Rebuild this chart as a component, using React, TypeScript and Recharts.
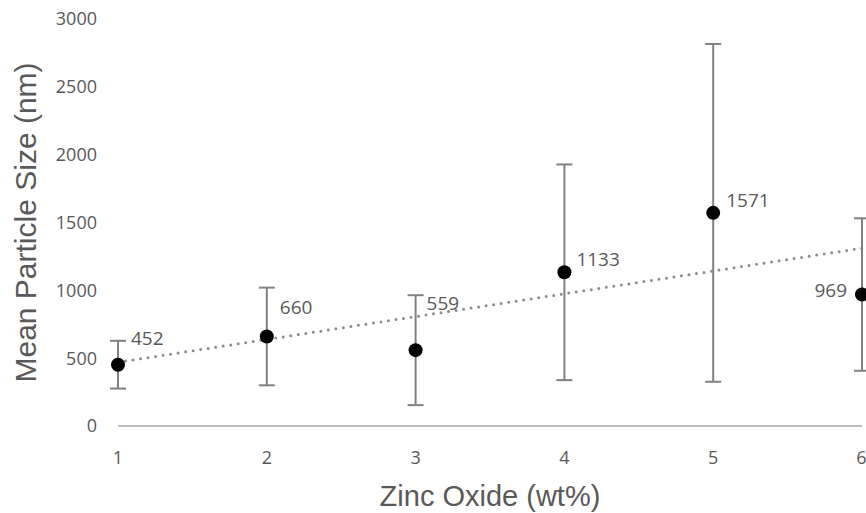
import React from 'react'
import {
  ComposedChart,
  Scatter,
  Line,
  XAxis,
  YAxis,
  ErrorBar,
  LabelList,
} from 'recharts'

// Zinc oxide loading (wt%) vs mean particle size (nm)
const zincOxide = [1, 2, 3, 4, 5, 6]
const meanSize = [452, 660, 559, 1133, 1571, 969]
const stdDev = [176, 360, 405, 795, 1245, 562]

// linear trendline end values
const trendX = [1, 6]
const trendY = [470, 1311]

const yTicks = [0, 500, 1000, 1500, 2000, 2500, 3000]
const xTicks = [1, 2, 3, 4, 5, 6]

const points = zincOxide.map((x, i) => ({ x, size: meanSize[i], err: stdDev[i] }))
const trend = trendX.map((x, i) => ({ x, trend: trendY[i] }))

const FONT = '"Open Sans", sans-serif'
const TITLE_FONT = '"Liberation Sans", Arial, sans-serif'
const GREY_TEXT = '#595959'

// where each value label sits relative to its point
const labelShift = [
  { dx: 13, dy: -27, anchor: 'start' },
  { dx: 13, dy: -29, anchor: 'start' },
  { dx: 11, dy: -47, anchor: 'start' },
  { dx: 12, dy: -13, anchor: 'start' },
  { dx: 13, dy: -13, anchor: 'start' },
  { dx: -15, dy: -5, anchor: 'end' },
]

function ValueLabel(props: any) {
  const { x, y, width, height, value, index } = props
  const s = labelShift[index] ?? { dx: 12, dy: -12, anchor: 'start' }
  const cx = x + (width ?? 0) / 2
  const cy = y + (height ?? 0) / 2
  return (
    <text
      x={cx + s.dx}
      y={cy + s.dy}
      textAnchor={s.anchor}
      dominantBaseline="central"
      fill={GREY_TEXT}
      fontSize={19}
      fontFamily={FONT}
    >
      {value}
    </text>
  )
}

function Dot(props: any) {
  const { cx, cy } = props
  return <circle cx={cx} cy={cy} r={7} fill="#000" />
}

export default function App() {
  return (
    <div style={{ position: 'absolute', left: 0, top: 0, background: '#fff' }}>
      <ComposedChart
        width={866}
        height={513}
        margin={{ top: 19, right: 4, bottom: 0, left: 0 }}
      >
        <XAxis
          dataKey="x"
          type="number"
          domain={[1, 6]}
          ticks={xTicks}
          allowDuplicatedCategory={false}
          height={87}
          tickLine={false}
          axisLine={{ stroke: '#a6a6a6', strokeWidth: 1.5 }}
          tick={{ fill: GREY_TEXT, fontSize: 18, fontFamily: FONT }}
          tickMargin={19}
          label={{
            value: 'Zinc Oxide (wt%)',
            position: 'insideBottom',
            offset: 7,
            fill: GREY_TEXT,
            fontSize: 29,
            fontFamily: TITLE_FONT,
          }}
        />
        <YAxis
          type="number"
          domain={[0, 3000]}
          ticks={yTicks}
          width={118}
          tickLine={false}
          axisLine={false}
          tick={{ fill: GREY_TEXT, fontSize: 18, fontFamily: FONT }}
          tickMargin={15}
          label={{
            value: 'Mean Particle Size (nm)',
            angle: -90,
            position: 'insideLeft',
            offset: 25,
            fill: GREY_TEXT,
            fontSize: 30,
            fontFamily: TITLE_FONT,
            style: { textAnchor: 'middle' },
          }}
        />
        <Line
          data={trend}
          dataKey="trend"
          type="linear"
          stroke="#8c8c8c"
          strokeWidth={3}
          strokeDasharray="0 7.6"
          strokeLinecap="round"
          dot={false}
          activeDot={false}
          isAnimationActive={false}
        />
        <Scatter
          data={points}
          dataKey="size"
          shape={<Dot />}
          isAnimationActive={false}
        >
          <ErrorBar
            dataKey="err"
            direction="y"
            width={8}
            stroke="#808080"
            strokeWidth={2}
          />
          <LabelList dataKey="size" content={<ValueLabel />} />
        </Scatter>
      </ComposedChart>
    </div>
  )
}
